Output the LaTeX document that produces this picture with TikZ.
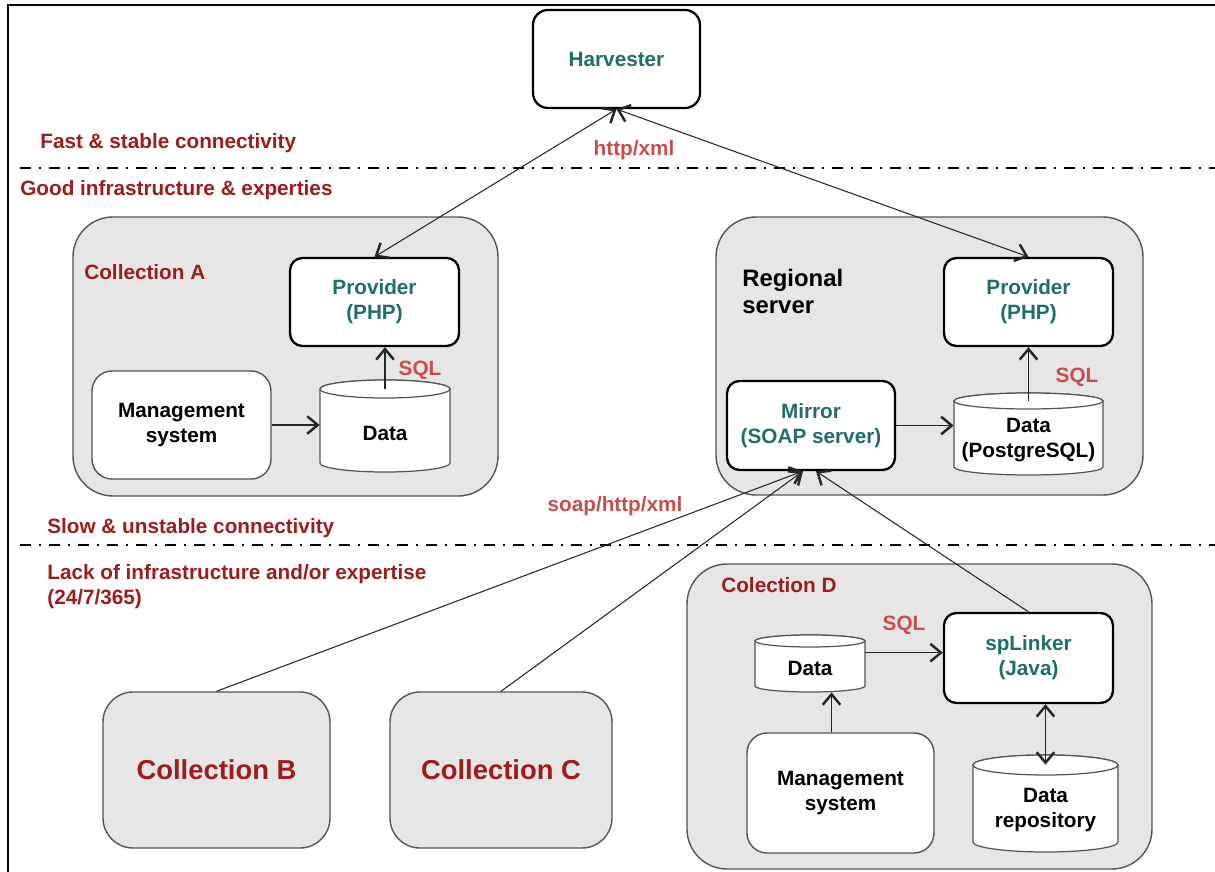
\documentclass[tikz,border=0pt]{standalone}
\usepackage{fontspec}
\setmainfont{Liberation Sans}
\usetikzlibrary{arrows.meta,fit}

\definecolor{labelred}{RGB}{158,28,28}
\definecolor{protored}{RGB}{200,78,78}
\definecolor{softteal}{RGB}{32,110,106}
\definecolor{panelgray}{RGB}{230,230,230}
\definecolor{edgegray}{RGB}{85,85,85}

\tikzset{
  every node/.style={font=\fontsize{11.8}{14.2}\selectfont\bfseries},
  wh/.style 2 args={minimum width=#1*0.02cm, minimum height=#2*0.02cm},
  panel/.style={draw=edgegray, line width=0.8pt, fill=panelgray, rounded corners=0.8cm, inner sep=0pt},
  smallpanel/.style={panel, rounded corners=0.6cm, text=labelred, font=\fontsize{15.6}{18}\selectfont\bfseries},
  service/.style={draw=black, line width=1.3pt, fill=white, rounded corners=0.25cm, inner sep=0pt, align=center, text=softteal},
  plainbox/.style={draw=edgegray, line width=0.8pt, fill=white, rounded corners=0.4cm, inner sep=0pt, align=center},
  drumline/.style={draw=edgegray, line width=0.7pt, fill=white},
  drumtext/.style={align=center, inner sep=0pt},
  zone/.style={text=labelred, anchor=west, align=left, inner sep=0pt},
  proto/.style={text=protored, inner sep=0pt},
  divider/.style={line width=1.3pt, dash pattern=on 0.22cm off 0.16cm on 0.04cm off 0.16cm},
  barb/.tip={Straight Barb[length=6pt, width=10pt, line width=1.4pt]},
  flow/.style={draw=black!85, line width=0.6pt, -barb},
  twoway/.style={draw=black!85, line width=0.6pt, barb-barb},
}

% database drum: name, left x, right x, top ellipse y, bottom ellipse y, ellipse half-height, text y, text
\newcommand\drum[8]{%
  \path[drumline] (#2,#4) -- (#2,#5)
     arc[start angle=180, end angle=0, x radius={(#3-#2)/2}, y radius=#6]
     -- (#3,#4)
     arc[start angle=0, end angle=-180, x radius={(#3-#2)/2}, y radius=#6] -- cycle;
  \draw[drumline] ({(#2+#3)/2},#4) ellipse [x radius={(#3-#2)/2}, y radius=#6];
  \node[fit={(#2,#4) (#3,{#5+#6})}, inner sep=0pt] (#1) {};
  \node[drumtext] (#1-text) at ({(#2+#3)/2},#7) {#8};
}

\begin{document}
\begin{tikzpicture}[x=0.02cm, y=-0.02cm]
\useasboundingbox (0,0) rectangle (1215,872);

% frame
\draw[line width=1.2pt] (8,872) -- (8,5) -- (1215,5);

% zone dividers
\draw[divider] (20,168) -- (1215,168);
\draw[divider] (20,545) -- (1215,545);

% zone captions
\node[zone] (fast) at (40,143) {Fast \& stable connectivity};
\node[zone] (good) at (20,190) {Good infrastructure \& experties};
\node[zone] (slow) at (47,528) {Slow \& unstable connectivity};
\node[zone] (lack) at (47,587) {Lack of infrastructure and/or expertise\\(24/7/365)};

% harvester
\node[service, rounded corners=0.3cm, wh={167}{98}] (harv) at (616.5,59) {Harvester};

% collection A
\node[panel, wh={425}{279}] (colA) at (285.5,356.5) {};
\node[zone] (colA-title) at (84,272) {Collection A};
\node[service, wh={169}{88}] (provA) at (374.5,302) {Provider\\(PHP)};
\node[plainbox, wh={179}{108}] (mgmtA) at (181.5,425) {Management\\system};
\drum{dataA}{320}{450}{389}{463}{9}{433}{Data}
\draw[flow] (mgmtA.east) -- (mgmtA.east -| dataA.west);
\draw[flow] (dataA.north) -- (dataA.north |- provA.south);
\node[proto] (sqlA) at (420,370) {SQL};

% regional server
\node[panel, wh={427}{278}] (reg) at (929.5,356) {};
\node[anchor=west, align=left, inner sep=0pt, font=\fontsize{13.6}{15.4}\selectfont\bfseries] (reg-title) at (742,291) {Regional\\server};
\node[service, wh={169}{88}] (provR) at (1028.5,302) {Provider\\(PHP)};
\node[service, wh={168}{89}] (mirror) at (811,425.5) {Mirror\\(SOAP server)};
\drum{dataR}{954}{1103}{401}{467}{8}{440}{Data\\(PostgreSQL)}
\draw[flow] (mirror.east) -- (mirror.east -| dataR.west);
\draw[flow] (dataR.north) -- (dataR.north |- provR.south);
\node[proto] (sqlR) at (1077,377) {SQL};

% harvesting links
\draw[twoway] (provA.north) -- (harv.south);
\draw[twoway] (provR.north) -- (harv.south);
\node[proto] (http) at (634,150) {http/xml};

% collections B and C
\node[smallpanel, wh={227}{156}] (colB) at (216.5,770) {Collection B};
\node[smallpanel, wh={222}{156}] (colC) at (501,770) {Collection C};

% collection D
\node[panel, wh={465}{305}] (colD) at (919.5,716.5) {};
\node[zone] (colD-title) at (721,585) {Colection D};
\node[service, wh={169}{90}] (spl) at (1028.5,658) {spLinker\\(Java)};
\node[plainbox, wh={187}{120}] (mgmtD) at (840.5,793) {Management\\system};
\drum{dataD}{755}{865}{641}{686}{6}{668}{Data}
\drum{repo}{973}{1118}{765}{842}{10}{810}{Data\\repository}
\draw[flow] ([yshift=-0.24cm]dataD.north east) -- ([yshift=-0.24cm]dataD.north east -| spl.west);
\draw[flow] ([xshift=-0.18cm]mgmtD.north) -- ([xshift=-0.18cm]mgmtD.north |- dataD.south);
\draw[twoway] (spl.south -| repo.north) -- (repo.north);
\node[proto] (sqlD) at (904,625) {SQL};

% links to the mirror
\coordinate (mirrorL) at ([xshift=-0.16cm]mirror.south);
\coordinate (mirrorR) at ([xshift=0.1cm]mirror.south);
\draw[flow] (colB.north) -- (mirrorL);
\draw[flow] (colC.north) -- (mirrorL);
\draw[flow] (spl.north) -- (mirrorR);
\node[proto] (soap) at (615,506) {soap/http/xml};

\end{tikzpicture}
\end{document}
